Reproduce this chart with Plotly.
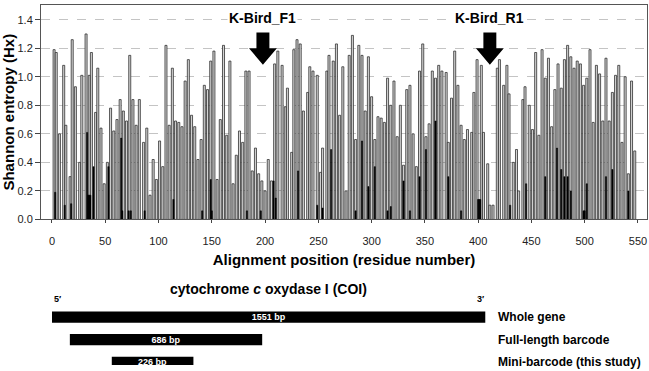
import plotly.graph_objects as go

# --- Shannon entropy per alignment position (variable, mostly 3rd codon positions) ---
positions = [2,4,7,11,13,17,19,22,26,28,32,35,37,41,43,46,49,52,55,58,61,64,67,70,73,76,79,82,
             86,89,92,95,98,101,104,107,110,113,116,119,122,125,128,131,134,137,140,143,146,149,152,155,158,161,164,167,170,173,176,
             179,182,185,188,191,194,197,200,203,206,209,212,216,219,221,225,227,230,233,236,240,242,245,249,252,254,258,260,264,267,270,
             273,276,279,282,285,288,291,294,297,300,303,306,309,312,315,318,321,324,327,330,333,336,339,342,345,348,351,354,357,360,363,
             366,370,372,375,378,381,384,387,390,394,396,399,403,405,409,411,414,418,420,424,427,429,433,436,438,442,444,448,451,454,457,
             460,463,466,469,472,475,478,481,484,487,490,493,496,499,502,505,508,511,514,517,520,523,526,529,532,535,538,541,544,547]
entropy = [1.19,1.17,0.60,1.08,0.66,0.30,1.26,0.93,0.40,1.01,1.30,1.01,1.17,0.75,1.06,0.64,0.25,0.40,0.78,0.62,0.70,0.84,0.76,0.69,1.15,0.84,0.66,0.84,
           0.54,0.64,0.17,0.42,0.28,0.55,0.37,1.22,0.66,1.06,0.69,0.68,0.65,0.97,1.12,0.73,0.65,0.42,0.56,0.94,0.91,1.11,1.18,0.28,0.70,1.22,0.59,1.11,0.25,0.45,0.62,
           0.54,1.04,1.04,0.34,0.50,0.32,0.27,0.20,0.42,0.27,1.09,1.18,1.08,0.79,0.92,0.47,1.19,1.26,1.23,0.76,0.89,1.07,1.04,1.01,0.33,0.50,1.04,1.15,1.11,1.23,0.73,
           1.07,0.20,1.15,1.29,0.56,1.22,1.15,0.76,1.14,0.86,0.56,0.72,0.71,0.68,0.99,0.80,0.97,0.58,0.80,0.38,0.91,0.94,0.60,0.37,1.04,1.23,0.58,0.67,1.04,0.99,1.08,
           1.04,1.03,0.54,0.85,1.18,0.94,0.66,0.56,0.63,0.61,0.89,1.12,1.08,0.61,0.39,0.10,0.10,1.06,1.12,0.94,1.08,0.88,0.40,0.49,0.20,0.84,0.93,0.80,0.63,1.17,0.59,
           1.19,0.99,1.13,0.65,0.91,1.09,0.92,1.12,1.22,1.14,1.06,1.11,1.09,0.94,0.99,1.19,0.68,1.08,1.02,0.69,1.13,0.69,0.89,1.01,1.08,0.54,1.00,0.32,0.97,0.48]

# low-entropy positions (dark bars)
low_positions = [3,12,18,33,34,35,36,39,53,65,66,72,74,87,114,141,149,150,183,196,208,210,231,249,254,262,
                 285,291,297,303,315,318,330,336,345,351,360,372,384,400,401,402,430,445,463,474,478,481,484,487,
                 499,500,502,520,526,541]
low_entropy = [0.19,0.10,0.11,0.61,0.17,0.17,0.17,0.37,0.37,0.57,0.06,0.06,0.06,0.06,0.14,0.06,0.28,0.06,0.06,0.06,0.27,0.15,0.34,0.10,0.08,0.49,
               0.06,0.55,0.23,0.37,0.06,0.09,0.27,0.06,0.30,0.49,0.69,0.30,0.06,0.14,0.14,0.14,0.10,0.25,0.30,0.50,0.35,0.30,0.30,0.20,
               0.06,0.06,0.25,0.30,0.35,0.20]

y_ticks = [0.0, 0.2, 0.4, 0.6, 0.8, 1.0, 1.2, 1.4]
x_ticks = [0, 50, 100, 150, 200, 250, 300, 350, 400, 450, 500, 550]

# primers
primer_names = ["K-Bird_F1", "K-Bird_R1"]
primer_pos = [198, 411]

# --- gene diagram ---
gene_labels = ["Whole gene", "Full-length barcode", "Mini-barcode (this study)"]
gene_sizes = ["1551 bp", "686 bp", "226 bp"]
gene_start = [0, 64, 214]
gene_end = [1551, 752, 506]
gene_row = [2, 1, 0]

FONT = "Liberation Sans, Arial, sans-serif"
NARROW = "Liberation Sans Narrow, Liberation Sans, Arial, sans-serif"

fig = go.Figure()
fig.add_trace(go.Bar(x=positions, y=entropy, width=1.9,
                     marker=dict(color="#d4d4d4", line=dict(color="#262626", width=0.75)),
                     xaxis="x", yaxis="y", showlegend=False))
fig.add_trace(go.Bar(x=low_positions, y=low_entropy, width=1.2,
                     marker=dict(color="#000000", line=dict(color="#000000", width=0.5)),
                     xaxis="x", yaxis="y", showlegend=False))

# gene bars
fig.add_trace(go.Bar(y=gene_row, x=[e - s for s, e in zip(gene_start, gene_end)], base=gene_start,
                     orientation="h", width=0.5, marker=dict(color="black", line=dict(width=0)),
                     text=["<b>%s</b>" % s for s in gene_sizes], textposition="inside", insidetextanchor="middle",
                     constraintext="none",
                     textfont=dict(color="white", size=9, family=NARROW),
                     xaxis="x2", yaxis="y2", showlegend=False))

ann = []
shapes = []
for name, p in zip(primer_names, primer_pos):
    ann.append(dict(x=p, y=1.41, xref="x", yref="y", text="<b>%s</b>" % name, showarrow=False,
                    font=dict(size=14, family=FONT, color="black"), bgcolor="white"))
    sw, hw = 6.5 / 1.069, 14 / 1.069
    y0, y1, y2 = 1.31, 1.2, 1.085
    path = "M %f %f L %f %f L %f %f L %f %f L %f %f L %f %f L %f %f Z" % (
        p - sw, y0, p + sw, y0, p + sw, y1, p + hw, y1, p, y2, p - hw, y1, p - sw, y1)
    shapes.append(dict(type="path", path=path, xref="x", yref="y", fillcolor="black",
                       line=dict(color="black", width=0)))

for lab, r in zip(gene_labels, gene_row):
    ann.append(dict(x=(496 - 39) / 608, y=r, xref="paper", yref="y2", xanchor="left", text="<b>%s</b>" % lab,
                    showarrow=False, font=dict(size=12, family=NARROW, color="black")))
ann.append(dict(x=gene_start[0], y=2.78, xref="x2", yref="y2", xanchor="left", text="<b>5′</b>", showarrow=False,
                font=dict(size=9, family=FONT, color="black")))
ann.append(dict(x=gene_end[0], y=2.78, xref="x2", yref="y2", xanchor="right", text="<b>3′</b>", showarrow=False,
                font=dict(size=9, family=FONT, color="black")))
ann.append(dict(x=gene_end[0] / 2, y=2.82, xref="x2", yref="y2", yanchor="bottom",
                text="<b>cytochrome <i>c</i> oxydase I (COI)</b>", showarrow=False,
                font=dict(size=14, family=FONT, color="black")))

fig.update_layout(
    width=649, height=371,
    margin=dict(l=39, r=2, t=5, b=0),
    paper_bgcolor="white", plot_bgcolor="white",
    barmode="overlay",
    font=dict(family=FONT, color="#222"),
    xaxis=dict(domain=[0, 1], range=[-10.3, 558.5], tickvals=x_ticks, ticks="outside", ticklen=3,
               ticklabelstandoff=8,
               tickfont=dict(size=11, color="#222"), showgrid=False, zeroline=False,
               showline=True, linecolor="#555", linewidth=1, mirror=True, anchor="y",
               title=dict(text="<b>Alignment position (residue number)</b>", font=dict(size=15, color="black"),
                          standoff=8)),
    yaxis=dict(domain=[(371 - 223) / 366, 1], range=[0, 1.503], tickvals=y_ticks, tickformat=".1f",
               ticks="outside", ticklen=5, tickfont=dict(size=11, color="#222"),
               showgrid=True, gridcolor="#c4c4c4", griddash="dash", gridwidth=1, zeroline=False,
               showline=True, linecolor="#555", linewidth=1, mirror=True, anchor="x",
               title=dict(text="<b>Shannon entropy (Hx)</b>", font=dict(size=15, color="black"), standoff=7)),
    xaxis2=dict(domain=[(50 - 39) / 608, (485 - 39) / 608], range=[0, 1551], visible=False, anchor="y2"),
    yaxis2=dict(domain=[0, 80 / 366], range=[-0.12, 3.36], visible=False, anchor="x2"),
    annotations=ann, shapes=shapes,
)

fig.write_html("out.html")
